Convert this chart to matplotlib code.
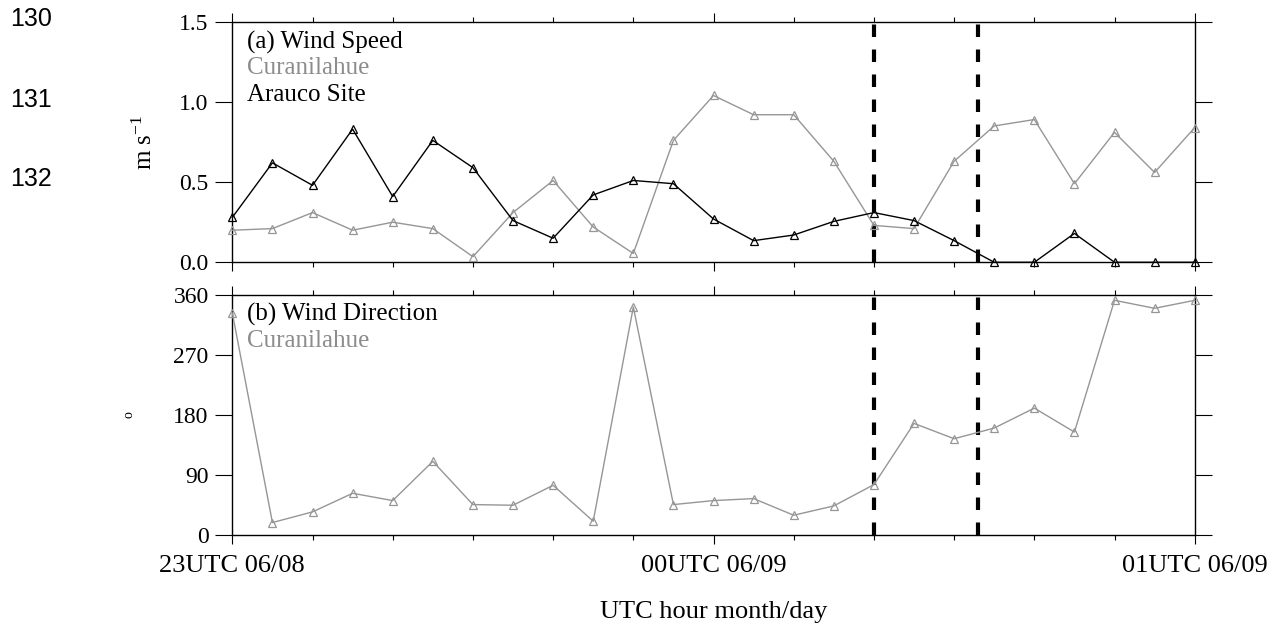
import matplotlib
matplotlib.use("Agg")
import matplotlib.pyplot as plt
from matplotlib.ticker import MultipleLocator

plt.rcParams["font.family"] = ["Liberation Serif", "DejaVu Serif"]
plt.rcParams["mathtext.fontset"] = "custom"
plt.rcParams["mathtext.rm"] = "Liberation Serif"
plt.rcParams["mathtext.it"] = "Liberation Serif:italic"

# minutes after 23UTC 06/08, every 5 min
minutes = list(range(0, 121, 5))

speed_curanilahue = [0.20, 0.21, 0.31, 0.20, 0.25, 0.21, 0.035, 0.31, 0.51, 0.22, 0.055, 0.76,
                     1.04, 0.92, 0.92, 0.63, 0.23, 0.21, 0.63, 0.85, 0.89, 0.49, 0.81, 0.56, 0.84]
speed_arauco = [0.28, 0.62, 0.48, 0.83, 0.41, 0.76, 0.59, 0.26, 0.15, 0.42, 0.51, 0.49,
                0.27, 0.135, 0.17, 0.255, 0.31, 0.26, 0.135, 0.0, 0.0, 0.18, 0.0, 0.0, 0.0]
dir_curanilahue = [333, 18, 34, 62, 51, 110, 45, 44, 74, 20, 342, 45,
                   51, 54, 29, 43, 75, 167, 144, 160, 190, 154, 352, 340, 352]

event_minutes = [80, 93]
hour_ticks = [0, 60, 120]
hour_labels = ["23UTC 06/08", "00UTC 06/09", "01UTC 06/09"]
line_numbers = ["130", "131", "132"]

gray = "#969696"
textgray = "#8c8c8c"

fig = plt.figure(figsize=(12.73, 6.29), dpi=100)
ax1 = fig.add_axes([0.1825, 0.583, 0.756, 0.3825])
ax2 = fig.add_axes([0.1825, 0.1502, 0.756, 0.3808])

for ax in (ax1, ax2):
    ax.set_xlim(0, 120)
    ax.set_xticks(hour_ticks)
    ax.xaxis.set_minor_locator(MultipleLocator(10))
    ax.tick_params(axis="x", which="major", direction="out", length=6.8, width=0.8,
                   top=True, bottom=True, labelsize=19, pad=8)
    ax.tick_params(axis="x", which="minor", direction="out", length=3.6, width=0.8,
                   top=True, bottom=True)
    ax.tick_params(axis="y", direction="out", length=12, width=0.8,
                   left=True, right=True, labelsize=17, pad=5)
    for s in ax.spines.values():
        s.set_linewidth(1.0)
    for m in event_minutes:
        ax.axvline(m, color="black", lw=3, ls=(0, (3, 3)), zorder=1)

# (a) wind speed
ax1.plot(minutes, speed_curanilahue, color=gray, lw=1, marker="^", ms=6,
         mfc="none", mec=gray, mew=0.9, clip_on=False, zorder=3)
ax1.plot(minutes, speed_arauco, color="black", lw=1, marker="^", ms=6,
         mfc="none", mec="black", mew=0.9, clip_on=False, zorder=4)
ax1.set_ylim(0, 1.5)
ax1.set_yticks([0, 0.5, 1.0, 1.5])
ax1.set_yticklabels(["0.0", "0.5", "1.0", "1.5"])
ax1.set_xticklabels([])
ax1.set_ylabel("m s$^{-1}$", fontsize=18)
ax1.yaxis.set_label_coords(-0.078, 0.5)
ax1.text(0.015, 0.889, "(a) Wind Speed", transform=ax1.transAxes, fontsize=18, va="baseline")
ax1.text(0.015, 0.7826, "Curanilahue", transform=ax1.transAxes, fontsize=18, va="baseline",
         color=textgray)
ax1.text(0.015, 0.6717, "Arauco Site", transform=ax1.transAxes, fontsize=18, va="baseline")

# (b) wind direction
ax2.plot(minutes, dir_curanilahue, color=gray, lw=1, marker="^", ms=6,
         mfc="none", mec=gray, mew=0.9, clip_on=False, zorder=3)
ax2.set_ylim(0, 360)
ax2.set_yticks([0, 90, 180, 270, 360])
ax2.set_xticklabels(hour_labels)
ax2.set_ylabel("o", fontsize=10)
ax2.yaxis.set_label_coords(-0.101, 0.5)
ax2.text(0.015, 0.8927, "(b) Wind Direction", transform=ax2.transAxes, fontsize=18, va="baseline")
ax2.text(0.015, 0.784, "Curanilahue", transform=ax2.transAxes, fontsize=18, va="baseline",
         color=textgray)

fig.text(0.1825 + 0.756 / 2, 0.027, "UTC hour month/day", ha="center", va="center", fontsize=19)

for lbl, yy in zip(line_numbers, [0.9698, 0.841, 0.7154]):
    fig.text(0.0079, yy, lbl, ha="left", va="center", fontsize=18, family="Liberation Sans")

fig.savefig("out.png", dpi=100)
